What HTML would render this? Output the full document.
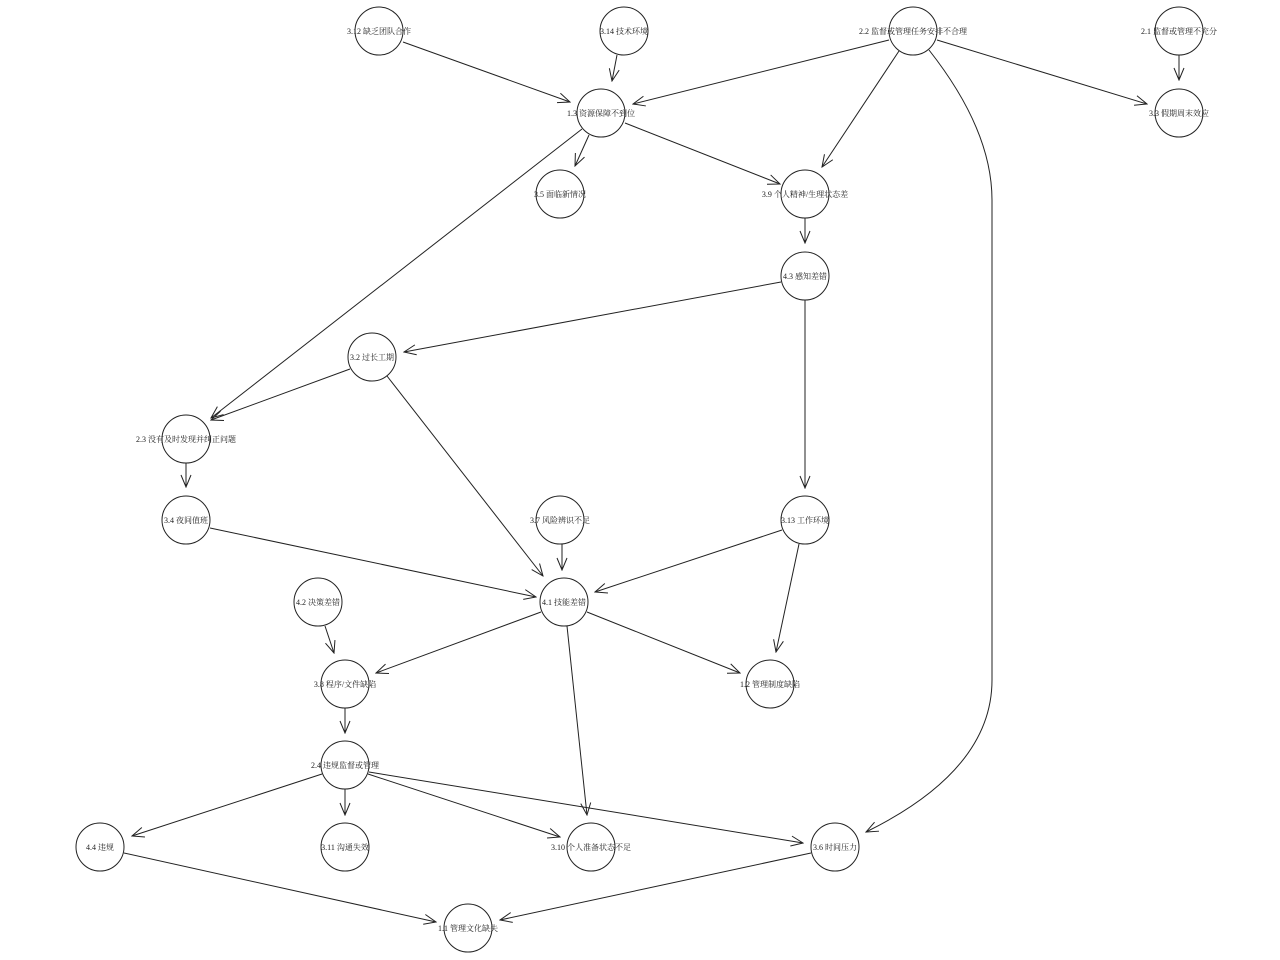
<!DOCTYPE html>
<html><head><meta charset="utf-8"><style>
html,body{margin:0;padding:0;background:#fff;}
svg{display:block}
text{font-family:"Liberation Serif","Noto Serif CJK SC","Noto Sans CJK SC",serif;font-size:8px;fill:#222;}
</style></head><body>
<svg width="1280" height="960" viewBox="0 0 1280 960">
<defs><marker id="a" markerWidth="14" markerHeight="12" refX="13" refY="6" orient="auto" markerUnits="userSpaceOnUse"><path d="M1,1 L13,6 L1,11" fill="none" stroke="#222" stroke-width="1"/></marker></defs>
<g stroke="#222" stroke-width="1" fill="none" marker-end="url(#a)">
<line x1="403" y1="42" x2="570" y2="102"/>
<line x1="617" y1="55" x2="612" y2="81"/>
<line x1="889" y1="40" x2="633" y2="104"/>
<line x1="937" y1="40" x2="1147" y2="104"/>
<line x1="1179" y1="55" x2="1179" y2="80"/>
<line x1="899" y1="51" x2="822" y2="167"/>
<path d="M929,50 Q992,130 992,200 L992,680 Q992,770 866,832"/>
<line x1="589" y1="135" x2="575" y2="166"/>
<line x1="625" y1="123" x2="780" y2="184"/>
<line x1="582" y1="129" x2="211" y2="418"/>
<line x1="805" y1="218" x2="805" y2="243"/>
<line x1="781" y1="282" x2="404" y2="352"/>
<line x1="805" y1="300" x2="805" y2="488"/>
<line x1="350" y1="369" x2="211" y2="420"/>
<line x1="387" y1="376" x2="543" y2="576"/>
<line x1="186" y1="463" x2="186" y2="487"/>
<line x1="210" y1="528" x2="536" y2="597"/>
<line x1="562" y1="544" x2="562" y2="570"/>
<line x1="782" y1="530" x2="595" y2="592"/>
<line x1="799" y1="544" x2="776" y2="652"/>
<line x1="325" y1="626" x2="334" y2="653"/>
<line x1="541" y1="612" x2="376" y2="673"/>
<line x1="587" y1="612" x2="740" y2="673"/>
<line x1="567" y1="626" x2="587" y2="815"/>
<line x1="345" y1="708" x2="345" y2="733"/>
<line x1="322" y1="774" x2="132" y2="836"/>
<line x1="345" y1="789" x2="345" y2="815"/>
<line x1="368" y1="774" x2="560" y2="837"/>
<line x1="369" y1="772" x2="803" y2="843"/>
<line x1="124" y1="853" x2="436" y2="922"/>
<line x1="811" y1="853" x2="500" y2="920"/>
</g>
<g stroke="#222" stroke-width="1" fill="none">
<circle cx="379" cy="31" r="24"/><circle cx="624" cy="31" r="24"/><circle cx="913" cy="31" r="24"/><circle cx="1179" cy="31" r="24"/>
<circle cx="601" cy="113" r="24"/><circle cx="1179" cy="113" r="24"/>
<circle cx="560" cy="194" r="24"/><circle cx="805" cy="194" r="24"/>
<circle cx="805" cy="276" r="24"/><circle cx="372" cy="357" r="24"/>
<circle cx="186" cy="439" r="24"/>
<circle cx="186" cy="520" r="24"/><circle cx="560" cy="520" r="24"/><circle cx="805" cy="520" r="24"/>
<circle cx="318" cy="602" r="24"/><circle cx="564" cy="602" r="24"/>
<circle cx="345" cy="684" r="24"/><circle cx="770" cy="684" r="24"/>
<circle cx="345" cy="765" r="24"/>
<circle cx="100" cy="847" r="24"/><circle cx="345" cy="847" r="24"/><circle cx="591" cy="847" r="24"/><circle cx="835" cy="847" r="24"/>
<circle cx="468" cy="928" r="24"/>
</g>
<g text-anchor="middle">
<text x="379" y="34">3.12 缺乏团队合作</text>
<text x="624" y="34">3.14 技术环境</text>
<text x="913" y="34">2.2 监督或管理任务安排不合理</text>
<text x="1179" y="34">2.1 监督或管理不充分</text>
<text x="601" y="116">1.3 资源保障不到位</text>
<text x="1179" y="116">3.3 假期周末效应</text>
<text x="560" y="197">3.5 面临新情况</text>
<text x="805" y="197">3.9 个人精神/生理状态差</text>
<text x="805" y="279">4.3 感知差错</text>
<text x="372" y="360">3.2 过长工期</text>
<text x="186" y="442">2.3 没有及时发现并纠正问题</text>
<text x="186" y="523">3.4 夜间值班</text>
<text x="560" y="523">3.7 风险辨识不足</text>
<text x="805" y="523">3.13 工作环境</text>
<text x="318" y="605">4.2 决策差错</text>
<text x="564" y="605">4.1 技能差错</text>
<text x="345" y="687">3.8 程序/文件缺陷</text>
<text x="770" y="687">1.2 管理制度缺陷</text>
<text x="345" y="768">2.4 违规监督或管理</text>
<text x="100" y="850">4.4 违规</text>
<text x="345" y="850">3.11 沟通失效</text>
<text x="591" y="850">3.10 个人准备状态不足</text>
<text x="835" y="850">3.6 时间压力</text>
<text x="468" y="931">1.1 管理文化缺失</text>
</g>
</svg>
</body></html>
